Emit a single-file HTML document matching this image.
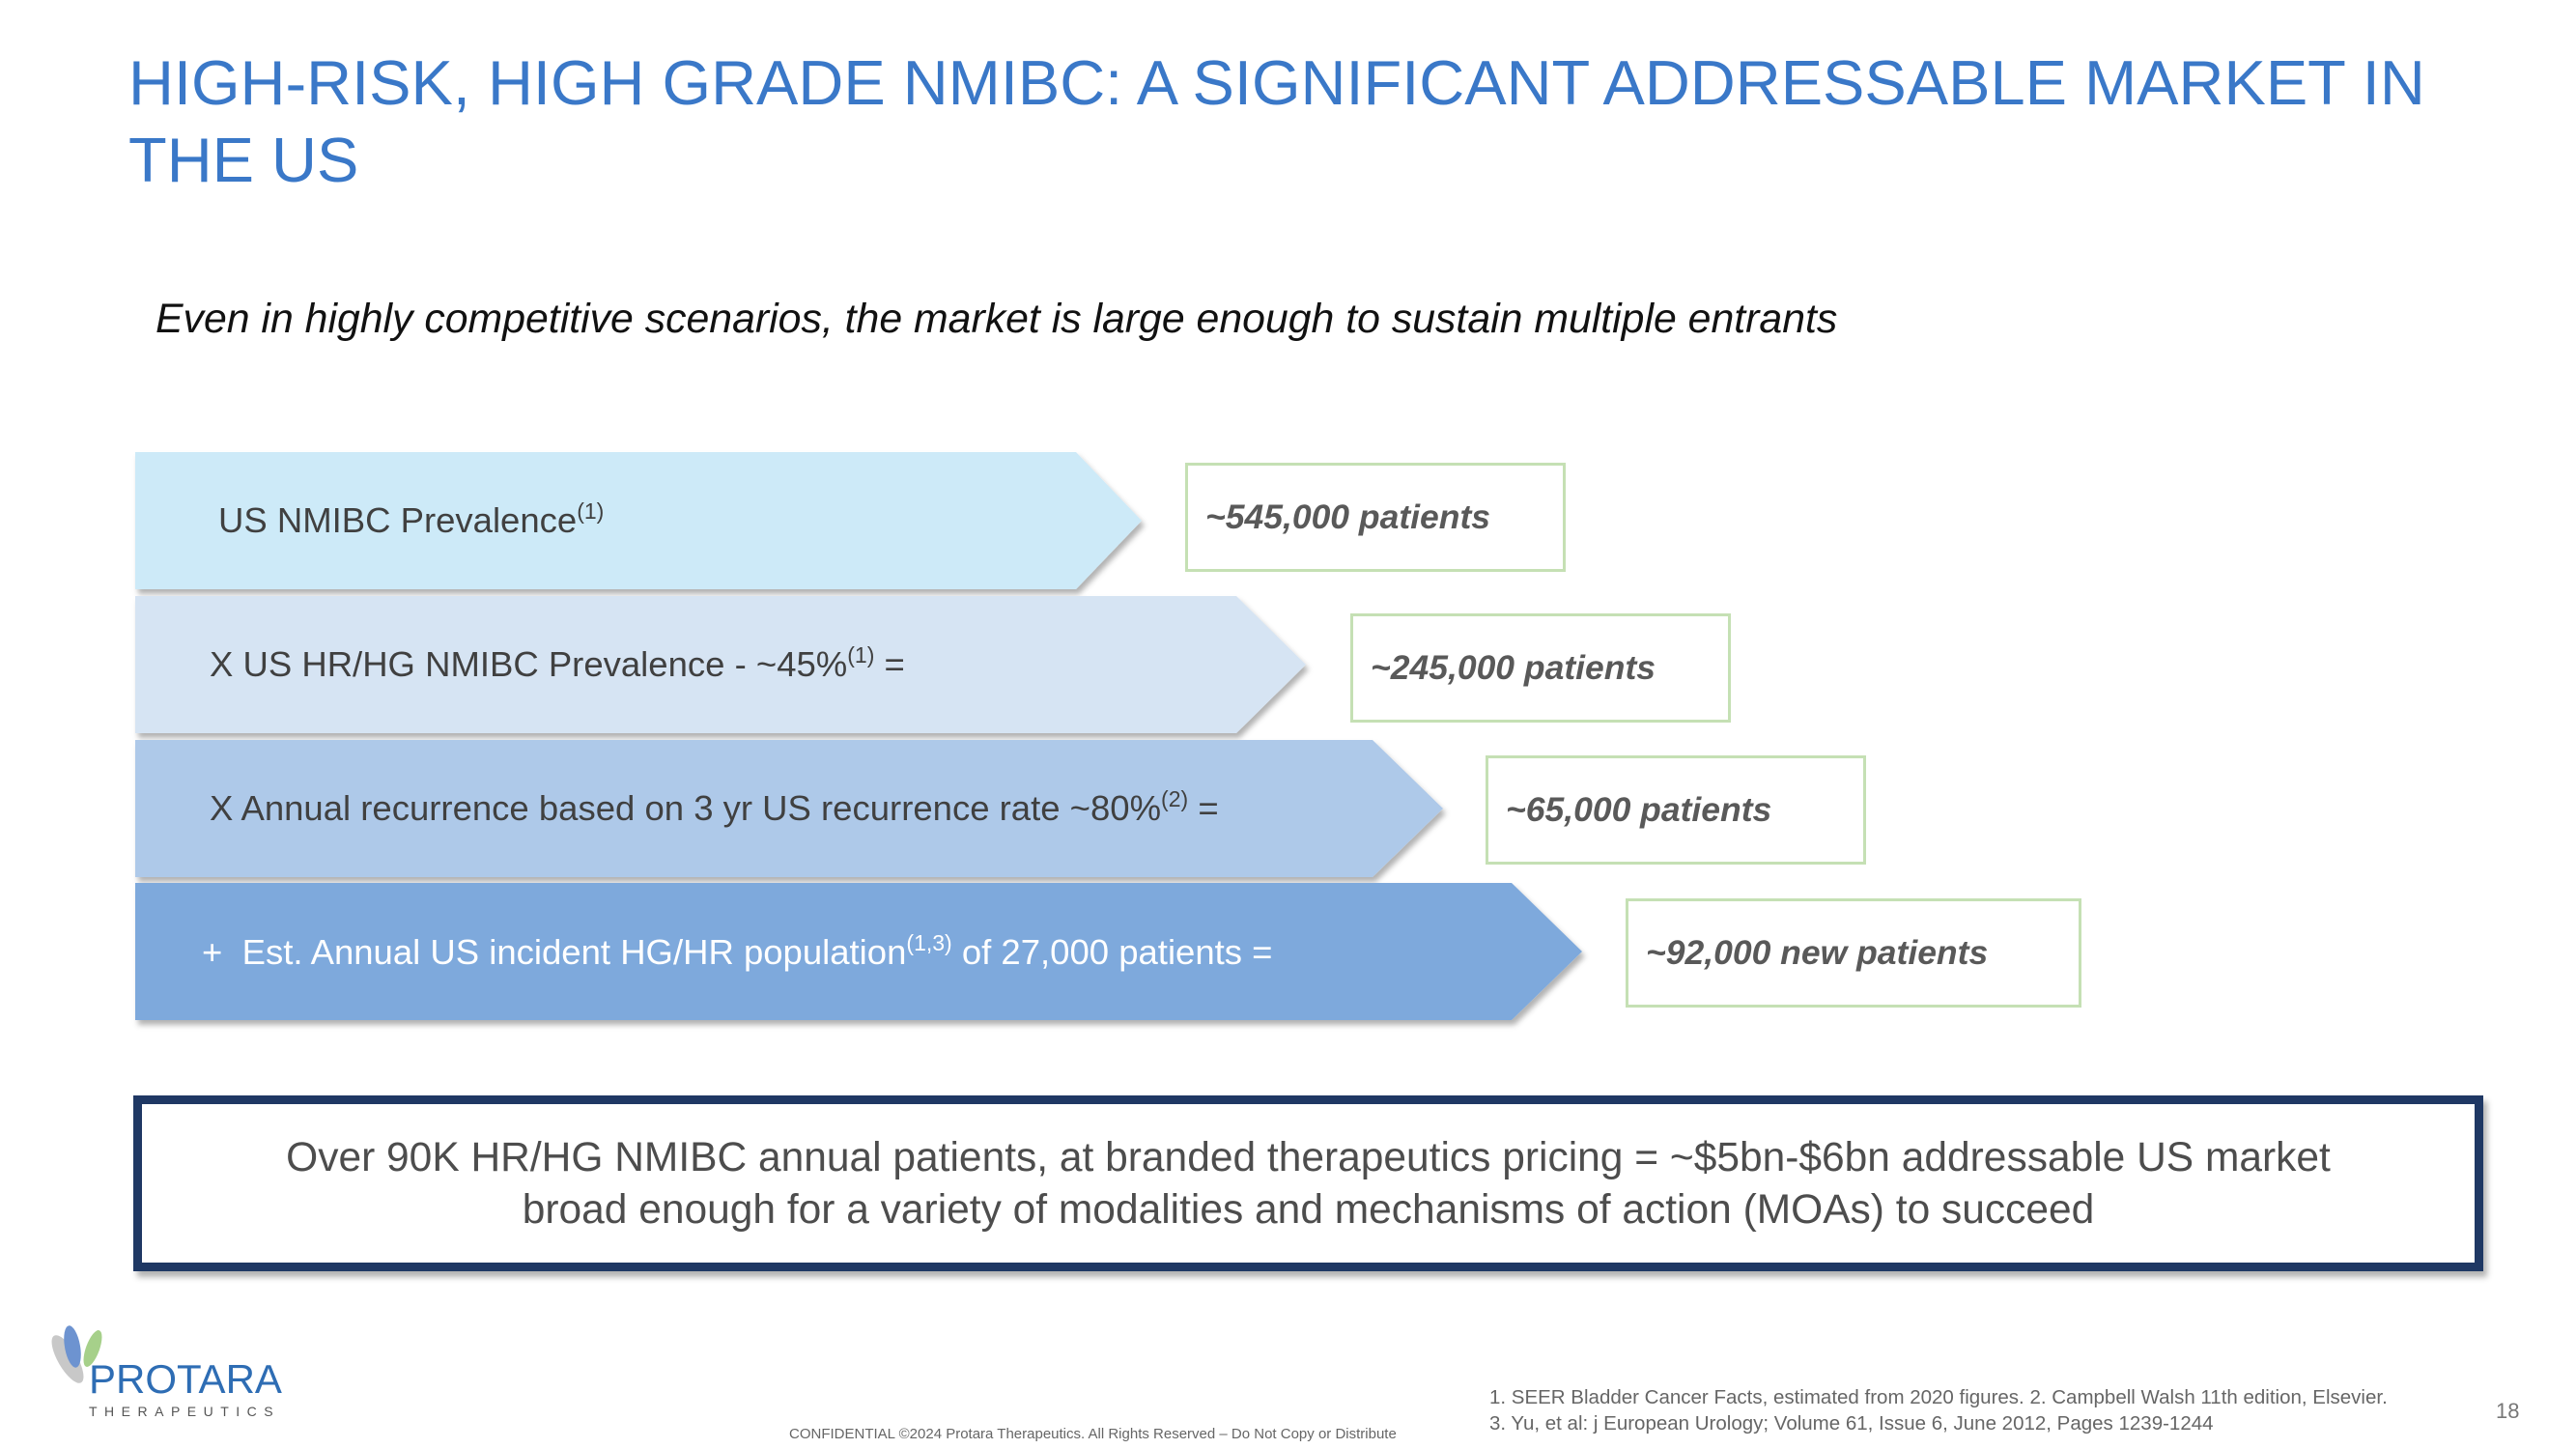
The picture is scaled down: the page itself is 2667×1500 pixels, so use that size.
<!DOCTYPE html>
<html><head><meta charset="utf-8"><style>
body{margin:0;width:2667px;height:1500px;background:#fff;position:relative;overflow:hidden;font-family:"Liberation Sans",sans-serif}
.a{position:absolute}
.lbl{position:absolute;font-size:36.5px;color:#404040;white-space:nowrap}
.lbl sup{font-size:23px;vertical-align:14px;line-height:0}
.box{position:absolute;border:3px solid #c5e0b4;box-sizing:border-box;background:#fff;font-size:35.5px;font-weight:bold;font-style:italic;color:#595959;display:flex;align-items:center;padding-left:18px}
</style></head><body>
<div class="a" style="left:133px;top:46px;width:2500px;font-size:65px;line-height:80px;color:#3a78c8">HIGH-RISK, HIGH GRADE NMIBC: A SIGNIFICANT ADDRESSABLE MARKET IN THE US</div>
<div class="a" style="left:161px;top:306px;font-size:42.8px;font-style:italic;color:#111">Even in highly competitive scenarios, the market is large enough to sustain multiple entrants</div>

<svg class="a" style="left:0;top:0" width="2667" height="1500">
<defs><filter id="sh" x="-5%" y="-10%" width="110%" height="130%"><feDropShadow dx="3" dy="5" stdDeviation="3" flood-color="#000" flood-opacity="0.3"/></filter></defs>
<polygon filter="url(#sh)" fill="#cdeaf8" points="140,468 1114,468 1182,539 1114,610 140,610"/>
<polygon filter="url(#sh)" fill="#d6e4f3" points="140,617 1280,617 1352,688 1280,759 140,759"/>
<polygon filter="url(#sh)" fill="#aec9e9" points="140,766 1421,766 1494,837 1421,908 140,908"/>
<polygon filter="url(#sh)" fill="#7ea9dc" points="140,914 1565,914 1638,985 1565,1056 140,1056"/>
</svg>
<div class="lbl" style="left:226px;top:518px">US NMIBC Prevalence<sup>(1)</sup></div>
<div class="lbl" style="left:217px;top:667px">X US HR/HG NMIBC Prevalence - ~45%<sup>(1)</sup> =</div>
<div class="lbl" style="left:217px;top:816px">X Annual recurrence based on 3 yr US recurrence rate ~80%<sup>(2)</sup> =</div>
<div class="lbl" style="left:209px;top:965px;color:#fff">+&nbsp; Est. Annual US incident HG/HR population<sup>(1,3)</sup> of 27,000 patients =</div>

<div class="box" style="left:1227px;top:479px;width:394px;height:113px">~545,000 patients</div>
<div class="box" style="left:1398px;top:635px;width:394px;height:113px">~245,000 patients</div>
<div class="box" style="left:1538px;top:782px;width:394px;height:113px">~65,000 patients</div>
<div class="box" style="left:1683px;top:930px;width:472px;height:113px">~92,000 new patients</div>

<div class="a" style="left:138px;top:1134px;width:2433px;height:182px;box-sizing:border-box;border:9px solid #1f3864;box-shadow:4px 6px 6px rgba(0,0,0,0.3);text-align:center;font-size:42.5px;line-height:54px;color:#4d4d4d;padding-top:29px">Over 90K HR/HG NMIBC annual patients, at branded therapeutics pricing = ~$5bn-$6bn addressable US market<br>broad enough for a variety of modalities and mechanisms of action (MOAs) to succeed</div>

<div class="a" style="left:38px;top:1372px;width:270px;height:100px">
<svg class="a" style="left:-8px;top:0" width="90" height="70"><ellipse cx="40" cy="35" rx="10" ry="28" fill="#c8c8c8" transform="rotate(-30 40 35)"/><ellipse cx="45" cy="22" rx="8" ry="22" fill="#6d93d0" transform="rotate(-10 45 22)"/><ellipse cx="66" cy="24" rx="7" ry="20" fill="#a6d08a" transform="rotate(20 66 24)"/></svg>
<div class="a" style="left:54px;top:32px;font-size:42px;color:#2e6db4">PROTARA</div>
<div class="a" style="left:54px;top:81px;font-size:14px;color:#555;letter-spacing:7.5px">THERAPEUTICS</div>
</div>
<div class="a" style="left:817px;top:1476px;font-size:15px;color:#666">CONFIDENTIAL ©2024 Protara Therapeutics. All Rights Reserved – Do Not Copy or Distribute</div>
<div class="a" style="left:1542px;top:1433px;font-size:20.5px;line-height:27px;color:#666">1. SEER Bladder Cancer Facts, estimated from 2020 figures. 2. Campbell Walsh 11th edition, Elsevier.<br>3. Yu, et al: j European Urology; Volume 61, Issue 6, June 2012, Pages 1239-1244</div>
<div class="a" style="left:2584px;top:1448px;font-size:22px;color:#777">18</div>
</body></html>
